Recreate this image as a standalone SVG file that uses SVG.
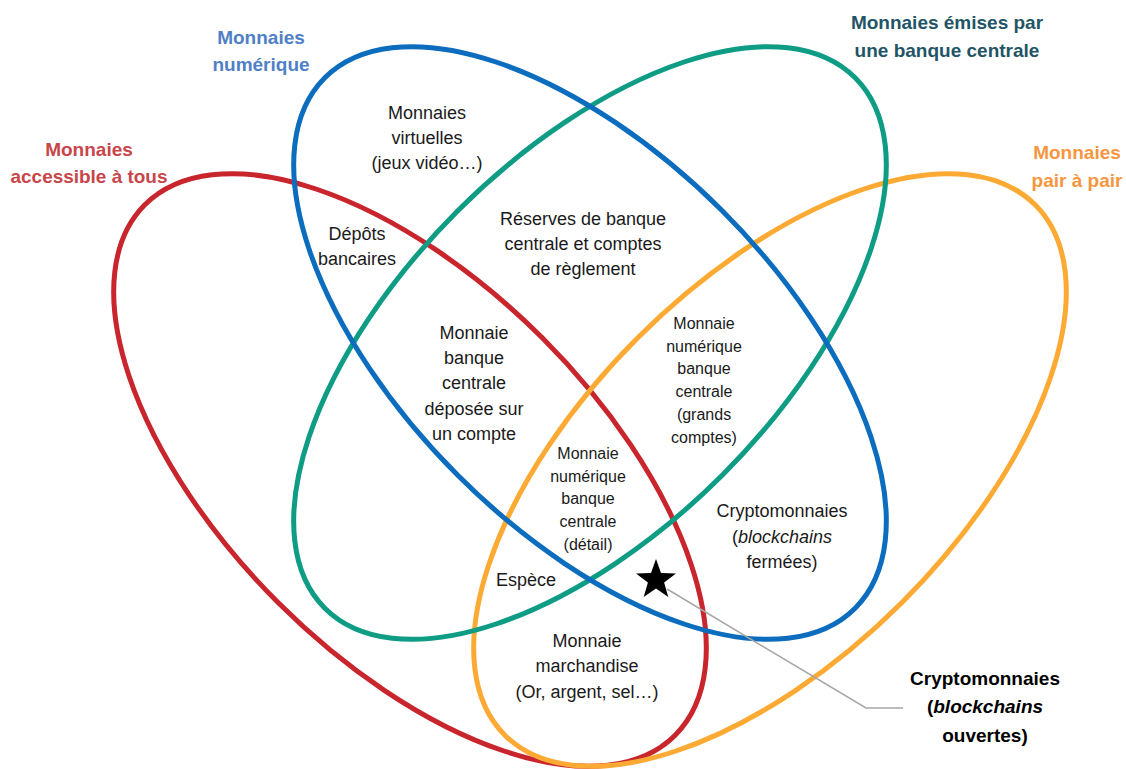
<svg xmlns="http://www.w3.org/2000/svg" width="1126" height="769" viewBox="0 0 1126 769">
<style>
.ring{fill:none;stroke-width:5}
.t{font-family:"Liberation Sans",Arial,sans-serif;font-size:18px;fill:#1a1a1a;text-anchor:middle}
.s{font-family:"Liberation Sans",Arial,sans-serif;font-size:16px;fill:#1a1a1a;text-anchor:middle}
.h{font-family:"Liberation Sans",Arial,sans-serif;font-size:19px;font-weight:bold;text-anchor:middle}
.b{font-family:"Liberation Sans",Arial,sans-serif;font-size:19px;font-weight:bold;fill:#000;text-anchor:middle}
</style>
<rect width="1126" height="769" fill="#fff"/>
<g id="set-accessible"><ellipse class="ring" cx="410" cy="470" rx="375" ry="187" transform="rotate(45 410 470)" stroke="#C8252D"/></g>
<g id="set-pair"><ellipse class="ring" cx="770" cy="470" rx="375" ry="187" transform="rotate(-45 770 470)" stroke="#FCAA33"/></g>
<g id="set-banque-centrale"><ellipse class="ring" cx="590" cy="343" rx="375" ry="187" transform="rotate(-45 590 343)" stroke="#0E9C84"/></g>
<g id="set-numerique"><ellipse class="ring" cx="590" cy="343" rx="375" ry="187" transform="rotate(45 590 343)" stroke="#0C6DBE"/></g>

<g id="titles">
<text class="h" fill="#4F7FC6"><tspan x="261" y="44">Monnaies</tspan><tspan x="261" y="71">numérique</tspan></text>
<text class="h" fill="#C8454A"><tspan x="89" y="156">Monnaies</tspan><tspan x="89" y="183" textLength="157" lengthAdjust="spacingAndGlyphs">accessible à tous</tspan></text>
<text class="h" fill="#1F5566"><tspan x="947" y="29">Monnaies émises par</tspan><tspan x="947" y="57">une banque centrale</tspan></text>
<text class="h" fill="#F7963F"><tspan x="1077" y="159">Monnaies</tspan><tspan x="1077" y="187">pair à pair</tspan></text>
</g>

<g id="regions">
<text class="t"><tspan x="427" y="119">Monnaies</tspan><tspan x="427" y="144">virtuelles</tspan><tspan x="427" y="169">(jeux vidéo…)</tspan></text>
<text class="t"><tspan x="357" y="240">Dépôts</tspan><tspan x="357" y="265">bancaires</tspan></text>
<text class="t"><tspan x="583" y="225">Réserves de banque</tspan><tspan x="583" y="250">centrale et comptes</tspan><tspan x="583" y="275">de règlement</tspan></text>
<text class="t"><tspan x="474" y="339">Monnaie</tspan><tspan x="474" y="364">banque</tspan><tspan x="474" y="389">centrale</tspan><tspan x="474" y="415">déposée sur</tspan><tspan x="474" y="440">un compte</tspan></text>
<text class="s"><tspan x="704" y="329">Monnaie</tspan><tspan x="704" y="352">numérique</tspan><tspan x="704" y="374">banque</tspan><tspan x="704" y="397">centrale</tspan><tspan x="704" y="420">(grands</tspan><tspan x="704" y="443">comptes)</tspan></text>
<text class="s"><tspan x="588" y="459">Monnaie</tspan><tspan x="588" y="482">numérique</tspan><tspan x="588" y="504">banque</tspan><tspan x="588" y="527">centrale</tspan><tspan x="588" y="550">(détail)</tspan></text>
<text class="t"><tspan x="526" y="586">Espèce</tspan></text>
<text class="t"><tspan x="782" y="517">Cryptomonnaies</tspan><tspan x="782" y="543">(<tspan font-style="italic">blockchains</tspan></tspan><tspan x="782" y="568">fermées)</tspan></text>
<text class="t"><tspan x="587" y="647">Monnaie</tspan><tspan x="587" y="672">marchandise</tspan><tspan x="587" y="698">(Or, argent, sel…)</tspan></text>
</g>

<g id="connectors">
<polyline points="667,589 866,708 903,708" fill="none" stroke="#A6A6A6" stroke-width="1.5"/>
</g>

<g id="star">
<polygon points="656,559 661,573.1 676,573.5 664.1,582.6 668.3,597 656,588.5 643.7,597 647.9,582.6 636,573.5 651,573.1" fill="#000"/>
</g>

<g id="crypto-ouvertes">
<text class="b"><tspan x="985" y="685">Cryptomonnaies</tspan><tspan x="985" y="713">(<tspan font-style="italic">blockchains</tspan></tspan><tspan x="985" y="742">ouvertes)</tspan></text>
</g>
</svg>
